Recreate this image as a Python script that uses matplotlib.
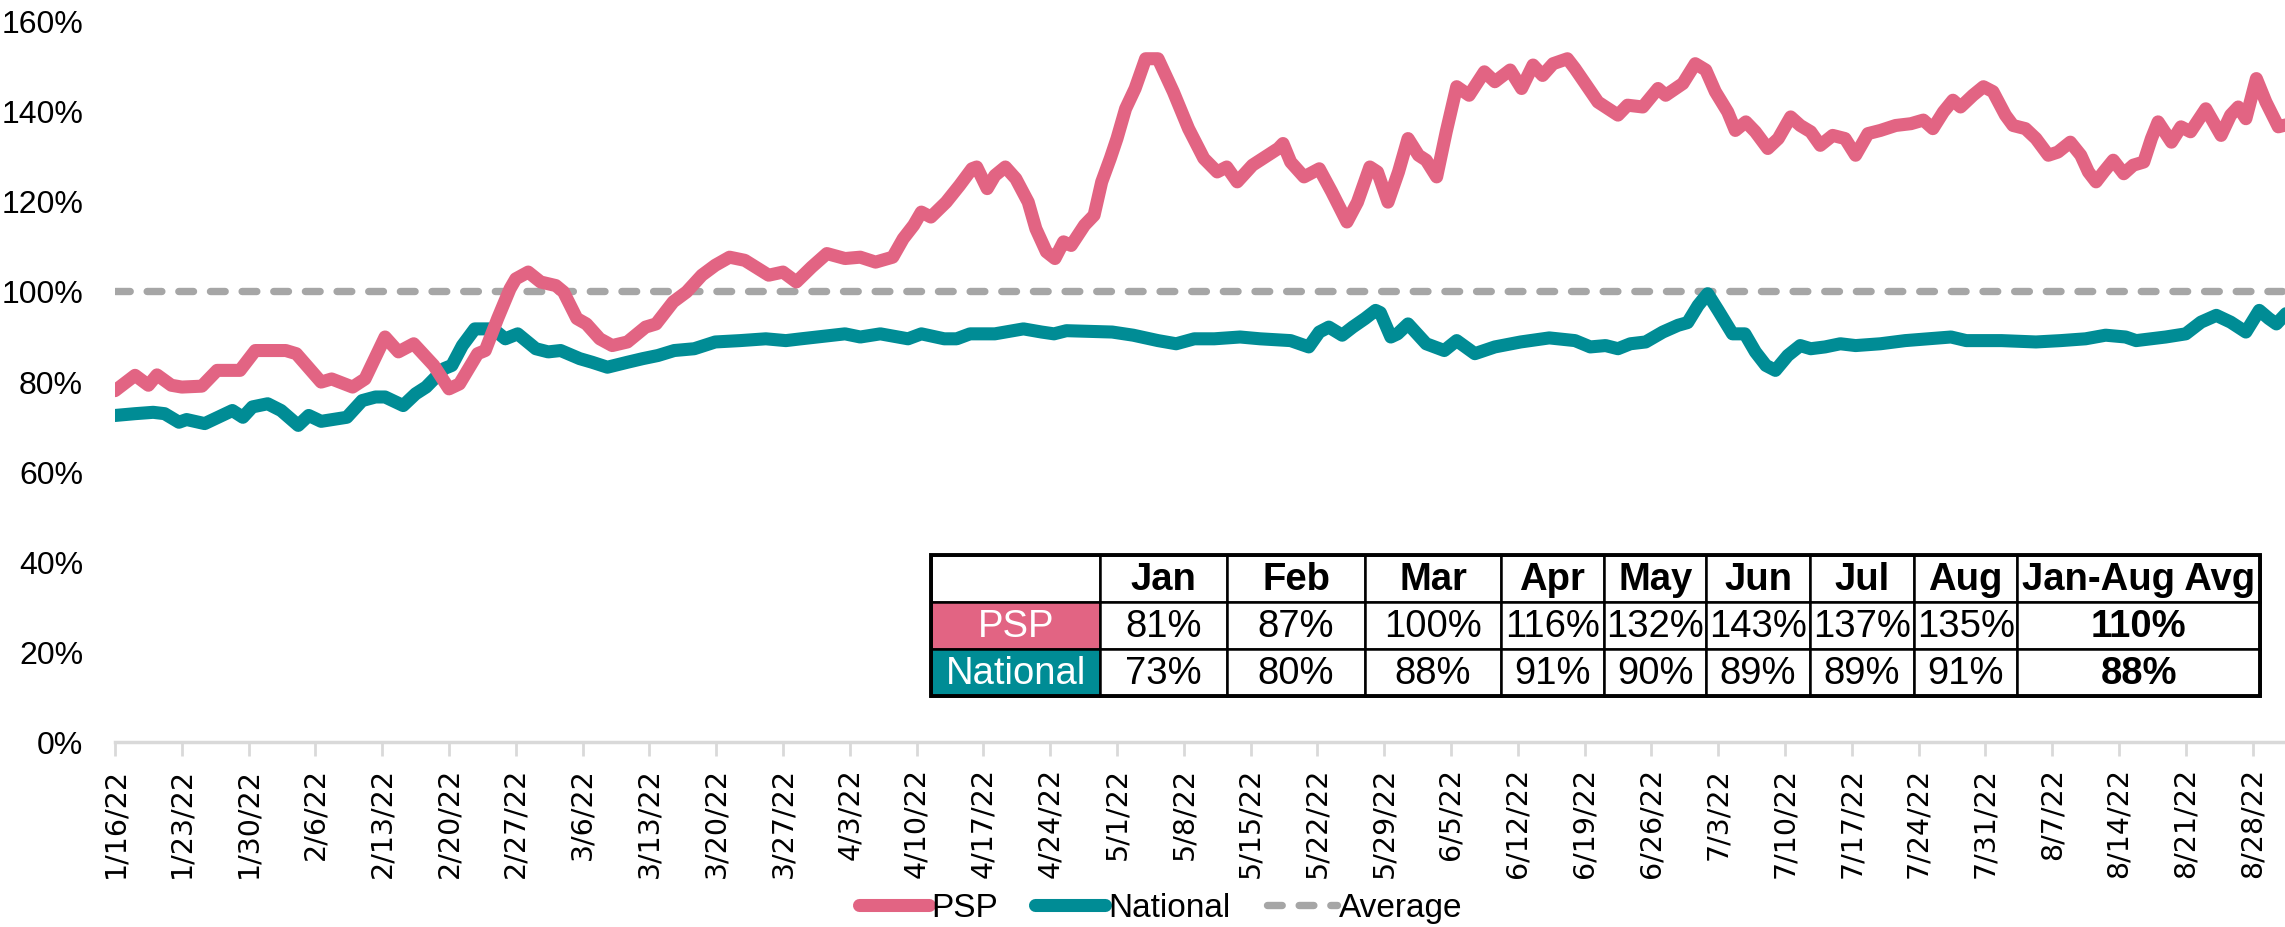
import datetime
import matplotlib
matplotlib.use("Agg")
import matplotlib.pyplot as plt
import matplotlib.dates as mdates
from matplotlib import font_manager
from matplotlib.lines import Line2D
from matplotlib.patches import Rectangle

# ---------------- data ----------------
start_date = "2022-01-16"

psp_days = [0, 2.1, 3.5, 4.4, 5.9, 7, 9.1, 10.7, 13.1, 14.7, 17.9, 19, 21.6, 22.7, 24.9, 26.2,
            28.3, 29.7, 31.3, 33.4, 35, 36.1, 38, 38.8, 40.1, 41.4, 42, 43.3, 44.6, 46.2, 47,
            48.4, 49.4, 50.8, 52.1, 53.7, 55.6, 56.7, 58.5, 59.9, 61.5, 62.9, 64.4, 66, 68.5,
            70, 71.4, 73, 74.6, 76.5, 78.1, 79.7, 81.5, 82.6, 83.7, 84.5, 85.5, 87.1, 88.5,
            89.8, 90.3, 91.4, 92.2, 93.3, 94.4, 95.7, 96.5, 97.6, 98.5, 99.4, 100.2, 101.6,
            102.6, 103.4, 104.3, 105, 105.9, 106.9, 108, 109.3, 110.9, 112.5, 114.1, 115.5,
            116.5, 117.6, 119.2, 120.8, 121.9, 122.4, 123.2, 124.6, 126.2, 127.5, 129.1, 130.2,
            131.5, 132.3, 133.4, 134.5, 135.5, 136.6, 137.4, 138.5, 139.5, 140.6, 141.9, 143.5,
            144.6, 146.2, 147.4, 148.6, 149.6, 150.7, 152.2, 153, 155.4, 157.5, 158.5, 160.1,
            161.7, 162.5, 164.3, 165.6, 166.7, 167.7, 169, 169.8, 170.9, 171.9, 173.2, 174.3,
            175.6, 176.6, 177.7, 178.7, 180, 181.3, 182.4, 183.7, 185, 186.6, 188.2, 189.5,
            190.5, 191.6, 192.6, 193.4, 194.7, 195.8, 196.8, 198.1, 198.9, 200.2, 201.3, 202.6,
            203.6, 204.9, 206, 206.8, 207.6, 208.4, 209.4, 210.5, 211.5, 212.6, 213.4, 214.1,
            215.5, 216.5, 217.5, 219.1, 220.7, 221.7, 222.5, 223.3, 224.4, 225.4, 226.7, 228]
psp_values = [77.9, 81.3, 79.1, 81.4, 79.1, 78.7, 78.9, 82.4, 82.4, 86.8, 86.8, 86.1, 79.8, 80.5,
              78.7, 80.5, 89.8, 86.5, 88.3, 83.5, 78.3, 79.4, 86.1, 86.8, 93.9, 100.5, 102.7,
              104.2, 102, 101.2, 99.8, 93.9, 92.7, 89.4, 87.9, 88.7, 92, 92.7, 97.6, 99.8, 103.5,
              105.7, 107.5, 106.8, 103.5, 104.2, 102, 105.3, 108.3, 107.2, 107.5, 106.4, 107.5,
              111.6, 114.6, 117.5, 116.4, 119.7, 123.4, 127.1, 127.5, 122.7, 125.6, 127.5, 124.9,
              119.7, 113.8, 108.7, 107.2, 110.9, 110.1, 114.6, 116.8, 124.2, 129.4, 133.8, 140.4,
              144.9, 151.5, 151.5, 144.2, 136, 129.4, 126.4, 127.5, 124.2, 127.9, 130.1, 131.6,
              132.7, 128.6, 125.3, 127.1, 122, 115.3, 119.7, 127.5, 126.4, 119.7, 126.4, 133.8,
              130.1, 129, 125.3, 135.3, 145.3, 143.4, 148.6, 146.4, 149, 144.9, 150.1, 147.8,
              150.4, 151.5, 149.3, 141.9, 139, 141.2, 140.8, 144.9, 143.4, 146, 150.4, 149,
              144.2, 139.7, 135.6, 137.5, 135.3, 131.6, 133.8, 138.6, 136.7, 135.3, 132.3, 134.5,
              133.8, 130.1, 134.9, 135.6, 136.7, 137.1, 137.9, 136, 139.7, 142.3, 140.8, 143.4,
              145.3, 144.2, 139, 136.7, 136, 133.8, 130.1, 130.8, 133, 130.1, 126.4, 124.2, 126.4,
              129, 126, 127.9, 128.6, 133.8, 137.5, 133, 136.4, 135.3, 140.4, 134.5, 139, 140.8,
              138.2, 147.1, 141.9, 136.4, 137.1]

national_days = [0, 2.1, 4, 5.2, 6.7, 7.5, 9.4, 12.3, 13.4, 14.4, 16, 17.4, 19.2, 20.3, 21.6,
                 24.3, 25.9, 27.3, 28.3, 30.2, 31.5, 32.6, 34.5, 35.3, 36.4, 37.7, 39.6, 40.9,
                 42.2, 44.1, 45.4, 46.7, 48.7, 50, 51.6, 53.7, 55.3, 56.9, 58.6, 60.7, 62.9, 65.5,
                 68.2, 70.3, 71.9, 76.5, 78.1, 80.2, 83.1, 84.5, 86.9, 88.2, 89.6, 92.2, 95.2,
                 97.1, 98.4, 99.7, 104.5, 106.7, 109.3, 111.2, 113.1, 115.2, 117.9, 120, 123.2,
                 125.1, 126.2, 127.2, 128.6, 129.7, 131, 132.1, 132.6, 133.7, 134.4, 135.5, 137.4,
                 139.3, 140.6, 142.5, 144.6, 147.3, 150.3, 153, 154.6, 156.2, 157.5, 158.8, 160.4,
                 162.2, 163.8, 164.8, 165.9, 166.9, 168, 169.5, 170.8, 171.9, 173, 174, 175.3,
                 176.6, 177.7, 179.2, 180.8, 182.4, 185, 187.6, 192.4, 194, 197.7, 201.3, 203.9,
                 206.5, 208.6, 210.7, 211.8, 214.9, 217, 218.6, 220.2, 221.7, 223.3, 224.7, 225.7,
                 226.5, 228]
national_values = [72.4, 72.8, 73.1, 72.8, 70.9, 71.5, 70.6, 73.5, 72, 74.3, 75, 73.5, 70.2, 72.4,
                   71.1, 72, 75.7, 76.5, 76.5, 74.6, 77.2, 78.7, 82.8, 83.5, 87.9, 91.6, 91.6,
                   89.4, 90.5, 87.2, 86.5, 86.8, 85, 84.2, 83.1, 84.2, 85, 85.7, 86.8, 87.2, 88.7,
                   89, 89.4, 89, 89.4, 90.5, 89.8, 90.5, 89.4, 90.5, 89.4, 89.4, 90.5, 90.5, 91.6,
                   90.9, 90.5, 91.2, 90.9, 90.2, 89, 88.3, 89.4, 89.4, 89.8, 89.4, 89, 87.6, 90.9,
                   92, 90.2, 92, 93.9, 95.7, 95.2, 89.8, 90.5, 92.7, 88.3, 86.8, 89, 86.1, 87.6,
                   88.7, 89.6, 89, 87.6, 87.9, 87.2, 88.3, 88.7, 90.9, 92.4, 93, 96.8, 99.4, 95.7,
                   90.5, 90.5, 86.5, 83.5, 82.4, 85.7, 87.9, 87.2, 87.6, 88.3, 87.9, 88.3, 89, 89.8,
                   89, 89, 88.7, 89, 89.4, 90.2, 89.8, 89, 89.8, 90.5, 93.1, 94.6, 93.1, 90.9, 95.7,
                   93.9, 92.7, 96.1]

average_value = 100

x_tick_labels = ["1/16/22", "1/23/22", "1/30/22", "2/6/22", "2/13/22", "2/20/22", "2/27/22",
                 "3/6/22", "3/13/22", "3/20/22", "3/27/22", "4/3/22", "4/10/22", "4/17/22",
                 "4/24/22", "5/1/22", "5/8/22", "5/15/22", "5/22/22", "5/29/22", "6/5/22",
                 "6/12/22", "6/19/22", "6/26/22", "7/3/22", "7/10/22", "7/17/22", "7/24/22",
                 "7/31/22", "8/7/22", "8/14/22", "8/21/22", "8/28/22"]
y_ticks = [0, 20, 40, 60, 80, 100, 120, 140, 160]

table_months = ["Jan", "Feb", "Mar", "Apr", "May", "Jun", "Jul", "Aug", "Jan-Aug Avg"]
psp_monthly = [81, 87, 100, 116, 132, 143, 137, 135]
psp_avg = 110
national_monthly = [73, 80, 88, 91, 90, 89, 89, 91]
national_avg = 88

# ---------------- style ----------------
PINK = "#E26483"
TEAL = "#008C95"
GRAY = "#A6A6A6"
AXIS_GRAY = "#D9D9D9"
LW = 9.4
DASH = (0, (2.0, 2.3))
DLW = 5.3

names = {f.name for f in font_manager.fontManager.ttflist}
NARROW = "Liberation Sans Narrow" if "Liberation Sans Narrow" in names else "Liberation Sans"
WIDE = "DejaVu Sans"

W, H = 2285, 928
fig = plt.figure(figsize=(W / 100, H / 100), dpi=100)
ax = fig.add_axes([115 / W, 1 - 743 / H, 2170 / W, (743 - 21.4) / H])

x0 = mdates.date2num(datetime.date.fromisoformat(start_date))
psp_x = [x0 + d for d in psp_days]
nat_x = [x0 + d for d in national_days]

ax.axhline(average_value, color=GRAY, lw=DLW, linestyle=DASH,
           dash_capstyle="round", zorder=1)
ax.plot(psp_x, psp_values, color=PINK, lw=LW, solid_capstyle="round",
        solid_joinstyle="round", zorder=3)
ax.plot(nat_x, national_values, color=TEAL, lw=LW, solid_capstyle="round",
        solid_joinstyle="round", zorder=2)

ax.set_ylim(0, 160)
ax.set_xlim(x0, x0 + 227.4)
ax.set_yticks(y_ticks)
ax.set_yticklabels([f"{v}%" for v in y_ticks], fontfamily=NARROW, fontsize=23, color="black")

tick_pos = [mdates.date2num(datetime.datetime.strptime(s, "%m/%d/%y")) for s in x_tick_labels]
ax.set_xticks(tick_pos)
ax.set_xticklabels(x_tick_labels, rotation=90, fontfamily=WIDE, fontsize=20.5, color="black")
ax.tick_params(axis="x", length=10, width=2, color=AXIS_GRAY, pad=8)
ax.tick_params(axis="y", length=0, pad=23)

for s in ["top", "right", "left"]:
    ax.spines[s].set_visible(False)
ax.spines["bottom"].set_color(AXIS_GRAY)
ax.spines["bottom"].set_linewidth(2.5)

# legend
handles = [Line2D([], [], color=PINK, lw=LW, solid_capstyle="round"),
           Line2D([], [], color=TEAL, lw=LW, solid_capstyle="round"),
           Line2D([], [], color=GRAY, lw=DLW, linestyle=DASH, dash_capstyle="round")]
fig.legend(handles, ["PSP", "National", "Average"], loc="center",
           bbox_to_anchor=(1161 / W, 1 - 909 / H), ncol=3, frameon=False,
           prop={"family": NARROW, "size": 24}, handlelength=2.1, handletextpad=0.08,
           columnspacing=1.1)

# table
cell_text = [[""] + table_months,
             ["PSP"] + [f"{v}%" for v in psp_monthly] + [f"{psp_avg}%"],
             ["National"] + [f"{v}%" for v in national_monthly] + [f"{national_avg}%"]]
col_w = [169.5, 126.3, 138.7, 135.1, 103.4, 102.4, 103.4, 104.2, 103.4, 242.6]
tot = sum(col_w)
tb_l, tb_b, tb_w, tb_h = 0.376, 0.0637, 0.6125, 0.1954
tbl = ax.table(cellText=cell_text, cellLoc="center", colWidths=[c / tot for c in col_w],
               bbox=[tb_l, tb_b, tb_w, tb_h])
tbl.auto_set_font_size(False)
tbl.set_zorder(5)
ncols = len(col_w)
for (r, c), cell in tbl.get_celld().items():
    cell.set_edgecolor("black")
    cell.set_linewidth(1.8)
    txt = cell.get_text()
    txt.set_fontfamily(NARROW)
    txt.set_fontsize(27.5)
    txt.set_color("black")
    if r == 0:
        txt.set_fontweight("bold")
    if c == ncols - 1 and r > 0:
        txt.set_fontweight("bold")
    if c == 0 and r == 1:
        cell.set_facecolor(PINK)
        txt.set_color("white")
    elif c == 0 and r == 2:
        cell.set_facecolor(TEAL)
        txt.set_color("white")
    else:
        cell.set_facecolor("white")

ax.add_patch(Rectangle((tb_l, tb_b), tb_w, tb_h, transform=ax.transAxes, fill=False,
                       edgecolor="black", lw=2.8, zorder=10, clip_on=False))

fig.savefig("out.png", dpi=100)
